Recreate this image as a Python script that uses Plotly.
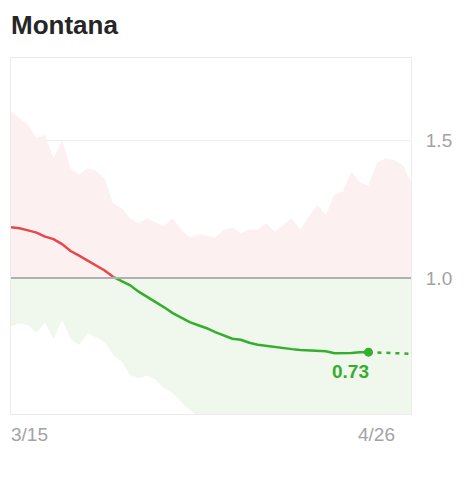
import pandas as pd
import plotly.graph_objects as go

# Rt estimate for Montana, daily from 3/15 (index 0) to 4/26 (index 42)
rt_mean = [1.184, 1.181, 1.173, 1.165, 1.150, 1.141, 1.123, 1.098, 1.081, 1.063,
           1.045, 1.027, 1.004, 0.989, 0.973, 0.950, 0.932, 0.914, 0.893, 0.872,
           0.855, 0.839, 0.828, 0.817, 0.803, 0.790, 0.779, 0.775, 0.764, 0.757,
           0.753, 0.748, 0.743, 0.741, 0.738, 0.737, 0.736, 0.733, 0.726, 0.726,
           0.727, 0.730, 0.730]
# projection past the last estimate (4/26 .. 5/1)
rt_proj = [0.730, 0.729, 0.727, 0.726, 0.725, 0.724]

# 80% credible interval, 3/15 .. 5/1
rt_high = [1.605, 1.581, 1.556, 1.508, 1.520, 1.435, 1.502, 1.399, 1.375, 1.399,
           1.390, 1.362, 1.272, 1.253, 1.217, 1.199, 1.217, 1.201, 1.189, 1.217,
           1.175, 1.147, 1.159, 1.153, 1.147, 1.175, 1.183, 1.163, 1.175, 1.175,
           1.199, 1.168, 1.193, 1.217, 1.175, 1.223, 1.265, 1.229, 1.302, 1.314,
           1.387, 1.347, 1.335, 1.419, 1.435, 1.429, 1.411, 1.350]
rt_low = [0.823, 0.835, 0.829, 0.801, 0.837, 0.777, 0.847, 0.777, 0.756, 0.799,
          0.784, 0.765, 0.720, 0.696, 0.647, 0.635, 0.644, 0.629, 0.599, 0.581,
          0.550, 0.520, 0.495, 0.482, 0.470, 0.462, 0.455, 0.450, 0.446, 0.442,
          0.440, 0.438, 0.436, 0.435, 0.434, 0.433, 0.432, 0.431, 0.430, 0.430,
          0.429, 0.429, 0.428, 0.428, 0.427, 0.427, 0.426, 0.426]

dates = pd.date_range("2020-03-15", periods=len(rt_high))
est_dates = dates[:len(rt_mean)]
proj_dates = dates[len(rt_mean) - 1:len(rt_mean) - 1 + len(rt_proj)]
ones = [1.0] * len(dates)

RED = "#e8474c"
GREEN = "#35ad2d"
PINK_FILL = "#fcf0f0"
GREEN_FILL = "#f0f8ee"
GRAY_TEXT = "#a3a3a3"
FONT = "Liberation Sans, Arial, sans-serif"

# page body adds 8px, so the figure is a bit smaller than the window
W, H = 462, 470

fig = go.Figure()

# green part of the band: lower bound up to 1.0
fig.add_trace(go.Scatter(x=dates, y=rt_low, mode="lines", line=dict(width=0),
                         hoverinfo="skip", showlegend=False))
fig.add_trace(go.Scatter(x=dates, y=ones, mode="lines", line=dict(width=0),
                         fill="tonexty", fillcolor=GREEN_FILL,
                         hoverinfo="skip", showlegend=False))
# pink part: 1.0 up to upper bound
fig.add_trace(go.Scatter(x=dates, y=rt_high, mode="lines", line=dict(width=0),
                         fill="tonexty", fillcolor=PINK_FILL,
                         hoverinfo="skip", showlegend=False))

# reference line at Rt = 1
fig.add_hline(y=1.0, line=dict(color="#b0b0b0", width=2))

# line: red while above 1, green below
split = next(i for i, v in enumerate(rt_mean) if v < 1.0)
fig.add_trace(go.Scatter(x=est_dates[:split], y=rt_mean[:split], mode="lines",
                         line=dict(color=RED, width=2.5), showlegend=False))
fig.add_trace(go.Scatter(x=est_dates[split - 1:], y=rt_mean[split - 1:], mode="lines",
                         line=dict(color=GREEN, width=2.5), showlegend=False))
fig.add_trace(go.Scatter(x=proj_dates, y=rt_proj, mode="lines",
                         line=dict(color=GREEN, width=2.5, dash="4px,5px"),
                         showlegend=False))
fig.add_trace(go.Scatter(x=[est_dates[-1]], y=[rt_mean[-1]], mode="markers",
                         marker=dict(color=GREEN, size=9), showlegend=False))

fig.add_annotation(x=est_dates[-1], y=rt_mean[-1], text=f"<b>{rt_mean[-1]:.2f}</b>",
                   showarrow=False, xanchor="right", yanchor="middle",
                   xshift=3, yshift=-19, font=dict(color=GREEN, size=19, family=FONT))

# x tick labels
fig.add_annotation(xref="paper", yref="paper", x=0, y=-0.058, text="3/15",
                   showarrow=False, xanchor="left", yanchor="middle",
                   xshift=-2, font=dict(color=GRAY_TEXT, size=19, family=FONT))
fig.add_annotation(x=est_dates[-1], yref="paper", y=-0.058, text="4/26",
                   showarrow=False, xanchor="center", yanchor="middle",
                   xshift=8, font=dict(color=GRAY_TEXT, size=19, family=FONT))

fig.update_layout(
    width=W, height=H,
    margin=dict(l=3, r=59, t=50, b=64),
    paper_bgcolor="white", plot_bgcolor="white",
    font=dict(family=FONT, color=GRAY_TEXT),
    title=dict(text="<b>Montana</b>", x=3 / W, xanchor="left",
               y=1 - 17 / H, yanchor="middle",
               font=dict(size=26, color="#262626", family=FONT)),
    xaxis=dict(range=[dates[0], dates[-1]], showticklabels=False, showgrid=False,
               zeroline=False, showline=True, mirror=True, linecolor="#ececec",
               linewidth=1),
    yaxis=dict(range=[0.505, 1.80], side="right", tickvals=[1.0, 1.5],
               ticktext=["1.0", "1.5"], showgrid=True, gridcolor="#efefef",
               zeroline=False, showline=True, mirror=True, linecolor="#ececec",
               linewidth=1, ticklabelstandoff=10,
               tickfont=dict(size=19, color=GRAY_TEXT, family=FONT)),
)

fig.write_html("out.html")
